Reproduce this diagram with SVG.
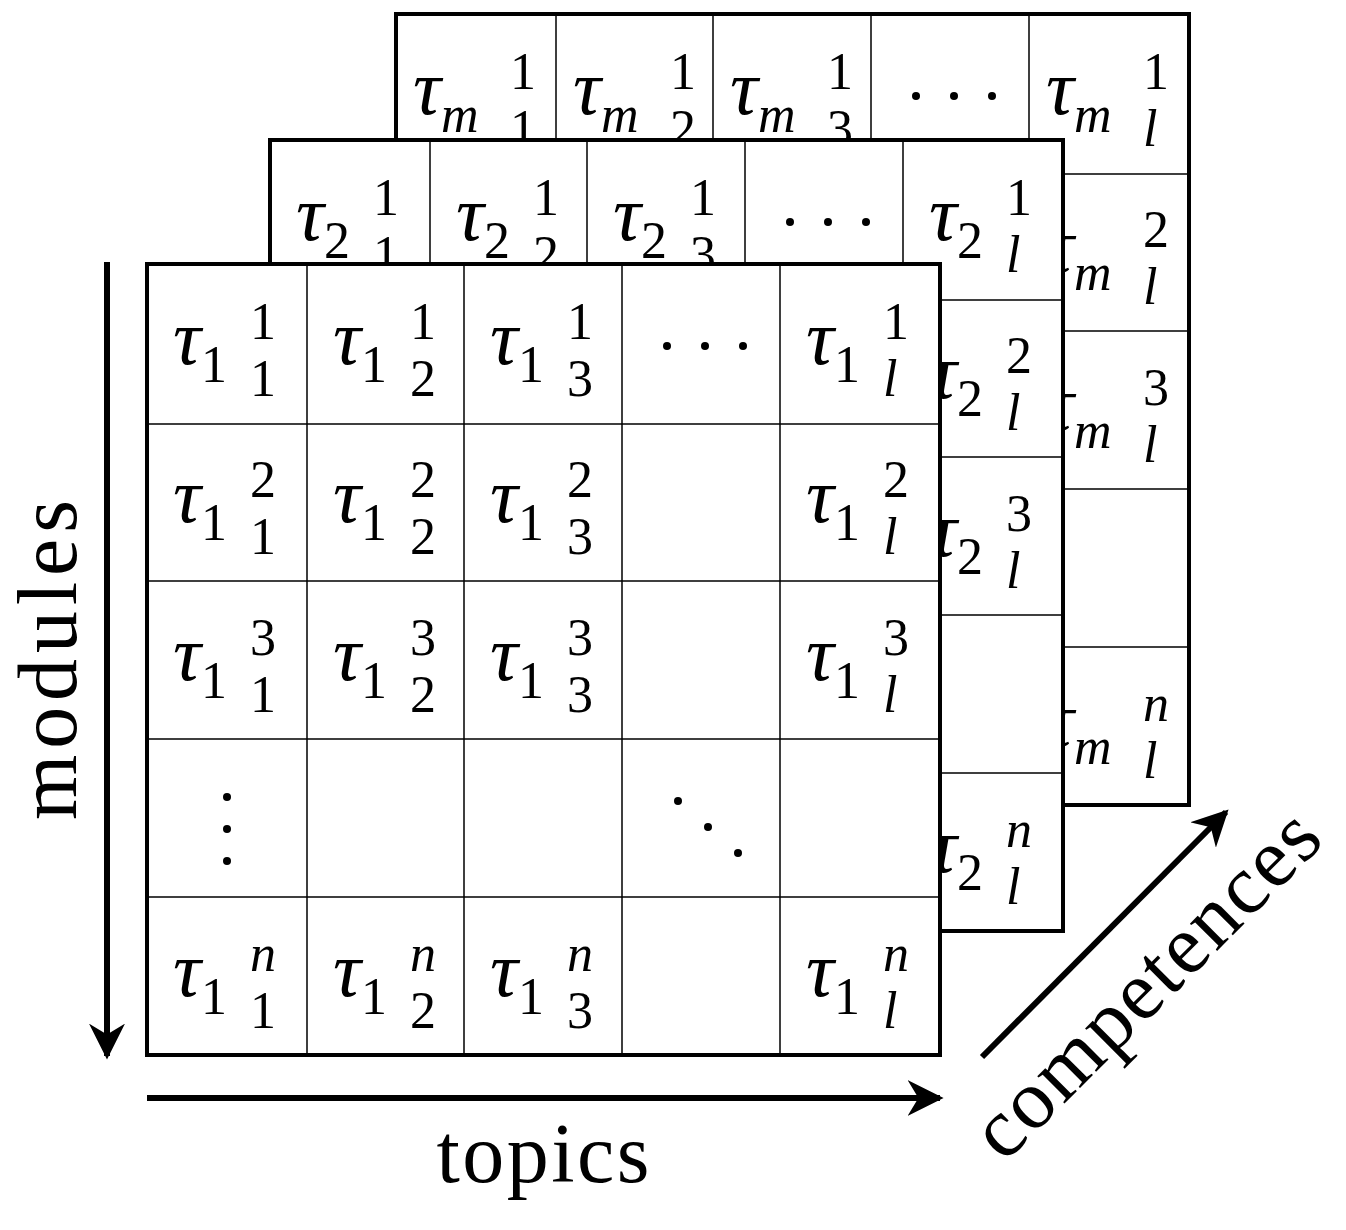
<svg xmlns="http://www.w3.org/2000/svg" width="1346" height="1230" viewBox="0 0 1346 1230">
<style>
.b{fill:#fff;stroke:#000;stroke-width:4}
.g{stroke:#000;stroke-width:1.5;fill:none}
text{font-family:"Liberation Serif","DejaVu Serif",serif;fill:#000}
.t{font-size:78px;font-style:italic}
.s{font-size:52px;font-style:normal}
.si{font-size:52px;font-style:italic}
.lab{font-size:84px}
</style>
<defs>
<marker id="ah" viewBox="0 0 10 10" refX="9" refY="5" markerWidth="6" markerHeight="6" markerUnits="strokeWidth" orient="auto"><path d="M0,0 L10,5 L0,10 L3,5 z" fill="#000"/></marker>
<g id="grid">
<rect class="b" x="0" y="0" width="793" height="791"/>
<path class="g" d="M160,0V791M317,0V791M475,0V791M633,0V791M0,160H793M0,317H793M0,475H793M0,633H793"/>
<rect x="0" y="0" width="793" height="791" fill="none" stroke="#000" stroke-width="4"/>
</g>
</defs>
<g id="back" transform="translate(396,14)">
<use href="#grid"/>
<g><text class="t" x="17" y="100">τ<tspan class="si" dy="18">m</tspan></text><text class="s" x="114" y="75">1</text><text class="s" x="114" y="132">1</text></g>
<g><text class="t" x="177" y="100">τ<tspan class="si" dy="18">m</tspan></text><text class="s" x="274" y="75">1</text><text class="s" x="274" y="132">2</text></g>
<g><text class="t" x="334" y="100">τ<tspan class="si" dy="18">m</tspan></text><text class="s" x="431" y="75">1</text><text class="s" x="431" y="132">3</text></g>
<g fill="#000"><circle cx="520" cy="82" r="4"/><circle cx="558" cy="82" r="4"/><circle cx="596" cy="82" r="4"/></g>
<g><text class="t" x="650" y="100">τ<tspan class="si" dy="18">m</tspan></text><text class="s" x="747" y="75">1</text><text class="si" x="747" y="132">l</text></g>
<g><text class="t" x="650" y="258">τ<tspan class="si" dy="18">m</tspan></text><text class="s" x="747" y="233">2</text><text class="si" x="747" y="290">l</text></g>
<g><text class="t" x="650" y="416">τ<tspan class="si" dy="18">m</tspan></text><text class="s" x="747" y="391">3</text><text class="si" x="747" y="448">l</text></g>
<g><text class="t" x="650" y="732">τ<tspan class="si" dy="18">m</tspan></text><text class="si" x="747" y="707">n</text><text class="si" x="747" y="764">l</text></g>
</g>
<g id="middle" transform="translate(270,140)">
<use href="#grid"/>
<g><text class="t" x="26" y="100">τ<tspan class="s" dy="18">2</tspan></text><text class="s" x="103" y="75">1</text><text class="s" x="103" y="132">1</text></g>
<g><text class="t" x="186" y="100">τ<tspan class="s" dy="18">2</tspan></text><text class="s" x="263" y="75">1</text><text class="s" x="263" y="132">2</text></g>
<g><text class="t" x="343" y="100">τ<tspan class="s" dy="18">2</tspan></text><text class="s" x="420" y="75">1</text><text class="s" x="420" y="132">3</text></g>
<g fill="#000"><circle cx="520" cy="82" r="4"/><circle cx="558" cy="82" r="4"/><circle cx="596" cy="82" r="4"/></g>
<g><text class="t" x="659" y="100">τ<tspan class="s" dy="18">2</tspan></text><text class="s" x="736" y="75">1</text><text class="si" x="736" y="132">l</text></g>
<g><text class="t" x="659" y="258">τ<tspan class="s" dy="18">2</tspan></text><text class="s" x="736" y="233">2</text><text class="si" x="736" y="290">l</text></g>
<g><text class="t" x="659" y="416">τ<tspan class="s" dy="18">2</tspan></text><text class="s" x="736" y="391">3</text><text class="si" x="736" y="448">l</text></g>
<g><text class="t" x="659" y="732">τ<tspan class="s" dy="18">2</tspan></text><text class="si" x="736" y="707">n</text><text class="si" x="736" y="764">l</text></g>
</g>
<g id="front" transform="translate(147,264)">
<use href="#grid"/>
<g><text class="t" x="26" y="100">τ<tspan class="s" dy="18">1</tspan></text><text class="s" x="103" y="75">1</text><text class="s" x="103" y="132">1</text></g>
<g><text class="t" x="186" y="100">τ<tspan class="s" dy="18">1</tspan></text><text class="s" x="263" y="75">1</text><text class="s" x="263" y="132">2</text></g>
<g><text class="t" x="343" y="100">τ<tspan class="s" dy="18">1</tspan></text><text class="s" x="420" y="75">1</text><text class="s" x="420" y="132">3</text></g>
<g fill="#000"><circle cx="520" cy="82" r="4"/><circle cx="558" cy="82" r="4"/><circle cx="596" cy="82" r="4"/></g>
<g><text class="t" x="659" y="100">τ<tspan class="s" dy="18">1</tspan></text><text class="s" x="736" y="75">1</text><text class="si" x="736" y="132">l</text></g>
<g><text class="t" x="26" y="258">τ<tspan class="s" dy="18">1</tspan></text><text class="s" x="103" y="233">2</text><text class="s" x="103" y="290">1</text></g>
<g><text class="t" x="186" y="258">τ<tspan class="s" dy="18">1</tspan></text><text class="s" x="263" y="233">2</text><text class="s" x="263" y="290">2</text></g>
<g><text class="t" x="343" y="258">τ<tspan class="s" dy="18">1</tspan></text><text class="s" x="420" y="233">2</text><text class="s" x="420" y="290">3</text></g>
<g><text class="t" x="659" y="258">τ<tspan class="s" dy="18">1</tspan></text><text class="s" x="736" y="233">2</text><text class="si" x="736" y="290">l</text></g>
<g><text class="t" x="26" y="416">τ<tspan class="s" dy="18">1</tspan></text><text class="s" x="103" y="391">3</text><text class="s" x="103" y="448">1</text></g>
<g><text class="t" x="186" y="416">τ<tspan class="s" dy="18">1</tspan></text><text class="s" x="263" y="391">3</text><text class="s" x="263" y="448">2</text></g>
<g><text class="t" x="343" y="416">τ<tspan class="s" dy="18">1</tspan></text><text class="s" x="420" y="391">3</text><text class="s" x="420" y="448">3</text></g>
<g><text class="t" x="659" y="416">τ<tspan class="s" dy="18">1</tspan></text><text class="s" x="736" y="391">3</text><text class="si" x="736" y="448">l</text></g>
<g fill="#000"><circle cx="80" cy="533" r="4"/><circle cx="80" cy="565" r="4"/><circle cx="80" cy="597" r="4"/><circle cx="531" cy="537" r="4"/><circle cx="561" cy="563" r="4"/><circle cx="591" cy="589" r="4"/></g>
<g><text class="t" x="26" y="732">τ<tspan class="s" dy="18">1</tspan></text><text class="si" x="103" y="707">n</text><text class="s" x="103" y="764">1</text></g>
<g><text class="t" x="186" y="732">τ<tspan class="s" dy="18">1</tspan></text><text class="si" x="263" y="707">n</text><text class="s" x="263" y="764">2</text></g>
<g><text class="t" x="343" y="732">τ<tspan class="s" dy="18">1</tspan></text><text class="si" x="420" y="707">n</text><text class="s" x="420" y="764">3</text></g>
<g><text class="t" x="659" y="732">τ<tspan class="s" dy="18">1</tspan></text><text class="si" x="736" y="707">n</text><text class="si" x="736" y="764">l</text></g>
</g>
<g id="connectors" stroke="#000" stroke-width="6" fill="none">
<line x1="107" y1="262" x2="107" y2="1056" marker-end="url(#ah)"/>
<line x1="147" y1="1098" x2="940" y2="1098" marker-end="url(#ah)"/>
<line x1="982" y1="1057" x2="1226" y2="812" marker-end="url(#ah)"/>
</g>
<g id="labels">
<text class="lab" text-anchor="middle" textLength="320" transform="translate(76,660) rotate(-90)">modules</text>
<text class="lab" text-anchor="middle" textLength="213" x="543" y="1182">topics</text>
<text class="lab" font-size="80" text-anchor="middle" textLength="455" transform="translate(1165,1003) rotate(-45)">competences</text>
</g>
</svg>
